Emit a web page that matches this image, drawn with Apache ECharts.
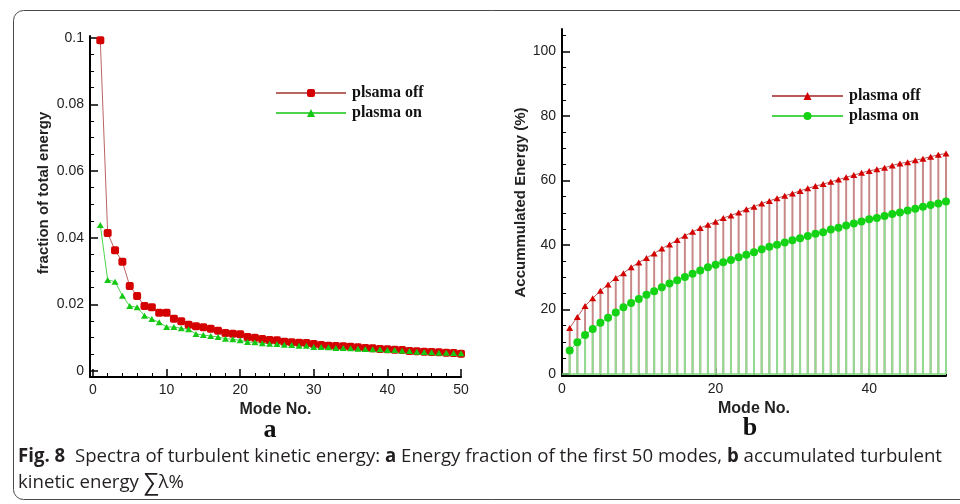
<!DOCTYPE html>
<html><head><meta charset="utf-8">
<script src="https://cdn.jsdelivr.net/npm/echarts@6/dist/echarts.min.js"></script>
<style>html,body{margin:0;padding:0;background:#fff}#c{width:960px;height:504px}</style>
</head><body><div id="c"></div>
<script>
// ---------- data ----------
const modes = [1,2,3,4,5,6,7,8,9,10,11,12,13,14,15,16,17,18,19,20,21,22,23,24,25,26,27,28,29,30,31,32,33,34,35,36,37,38,39,40,41,42,43,44,45,46,47,48,49,50];
const fracOff = [0.0992,0.0414,0.0362,0.0328,0.0255,0.0225,0.0195,0.0191,0.0175,0.0175,0.0157,0.0149,0.0139,0.0134,0.0131,0.0127,0.0121,0.0114,0.0112,0.0110,0.0102,0.0100,0.0096,0.0093,0.0092,0.0088,0.0086,0.0085,0.0084,0.0081,0.0078,0.0076,0.0075,0.0074,0.0073,0.0071,0.0069,0.0068,0.0066,0.0065,0.0064,0.0063,0.0060,0.0059,0.0058,0.0057,0.0056,0.0055,0.0054,0.0052];
const fracOn = [0.0438,0.0273,0.0268,0.0226,0.0195,0.0191,0.0166,0.0156,0.0146,0.0132,0.0132,0.0128,0.0125,0.0111,0.0108,0.0105,0.0102,0.0097,0.0095,0.0092,0.0087,0.0086,0.0083,0.0082,0.0081,0.0079,0.0078,0.0076,0.0076,0.0072,0.0072,0.0071,0.0069,0.0069,0.0068,0.0067,0.0066,0.0065,0.0065,0.0063,0.0063,0.0061,0.0060,0.0058,0.0057,0.0056,0.0055,0.0055,0.0054,0.0053];
const accOff = [14.3,17.7,21.1,23.5,25.8,27.8,29.8,31.3,33.1,34.6,36.0,37.4,38.9,40.2,41.6,42.9,44.1,45.3,46.3,47.2,48.4,49.2,50.1,51.1,51.9,52.9,53.7,54.5,55.3,56.0,56.8,57.6,58.3,58.9,59.6,60.3,61.0,61.7,62.4,63.0,63.5,64.0,64.7,65.3,65.7,66.3,66.8,67.4,68.0,68.4];
const accOn = [7.3,9.9,12.1,14.0,15.9,17.5,19.1,20.7,22.0,23.3,24.6,25.7,26.9,28.1,29.1,30.1,31.1,32.1,33.1,33.9,34.7,35.4,36.2,37.0,37.8,38.7,39.5,40.1,40.8,41.5,42.1,42.8,43.5,44.0,44.8,45.4,46.1,46.7,47.3,48.0,48.4,49.0,49.6,50.1,50.7,51.3,51.9,52.4,52.9,53.5];

const fracXTicks = [0,10,20,30,40,50];
const fracXMinor = [2,4,6,8,12,14,16,18,22,24,26,28,32,34,36,38,42,44,46,48];
const fracYTicks = [0,0.02,0.04,0.06,0.08,0.1];
const fracYMinor = [0.005,0.01,0.015,0.025,0.03,0.035,0.045,0.05,0.055,0.065,0.07,0.075,0.085,0.09,0.095];
const accXTicks = [0,20,40];
const accXMinor = [5,10,15,25,30,35,45,50];
const accYTicks = [0,20,40,60,80,100];
const accYMinor = [5,10,15,25,30,35,45,50,55,65,70,75,85,90,95,105];

const leftNames = ['plsama off','plasma on'];
const rightNames = ['plasma off','plasma on '];
const yNameLeft = 'fraction of total energy';
const yNameRight = 'Accummulated Energy (%)';
const xName = 'Mode No.';

// ---------- helpers ----------
const pair = (xs, ys) => xs.map((x, i) => [x, ys[i]]);
const SANS = '"Liberation Sans", Arial, sans-serif';
const SERIF = '"Liberation Serif", "Times New Roman", serif';

function mainX(grid, min, max, ticks) {
  return {
    gridIndex: grid, type: 'value', position: 'bottom', min: min, max: max,
    axisLine: {show: true, onZero: false, lineStyle: {color: '#000', width: 2}},
    axisTick: {show: true, inside: true, length: 8, customValues: ticks, lineStyle: {color: '#000', width: 1.5}},
    axisLabel: {customValues: ticks, color: '#222', fontSize: 14, fontFamily: SANS, margin: 6},
    splitLine: {show: false},
    name: xName, nameLocation: 'middle', nameGap: 18,
    nameTextStyle: {fontFamily: SANS, fontWeight: 'bold', fontSize: 16, color: '#222'}
  };
}
function minorX(grid, min, max, ticks) {
  return {
    gridIndex: grid, type: 'value', position: 'bottom', min: min, max: max,
    axisLine: {show: false, onZero: false},
    axisTick: {show: true, inside: true, length: 4, customValues: ticks, lineStyle: {color: '#000', width: 1}},
    axisLabel: {show: false}, splitLine: {show: false}
  };
}
function mainY(grid, min, max, ticks, name, gap, pad) {
  return {
    gridIndex: grid, type: 'value', position: 'left', min: min, max: max,
    axisLine: {show: true, onZero: false, lineStyle: {color: '#000', width: 2}},
    axisTick: {show: true, inside: true, length: 8, customValues: ticks, lineStyle: {color: '#000', width: 1.5}},
    axisLabel: {customValues: ticks, color: '#222', fontSize: 14, fontFamily: SANS, margin: 6},
    splitLine: {show: false},
    name: name, nameLocation: 'middle', nameGap: gap,
    nameTextStyle: {fontFamily: SANS, fontWeight: 'bold', fontSize: 15, color: '#222', padding: pad}
  };
}
function minorY(grid, min, max, ticks) {
  return {
    gridIndex: grid, type: 'value', position: 'left', min: min, max: max,
    axisLine: {show: false, onZero: false},
    axisTick: {show: true, inside: true, length: 4, customValues: ticks, lineStyle: {color: '#000', width: 1}},
    axisLabel: {show: false}, splitLine: {show: false}
  };
}

// caption sizing
const capFont = '"Open Sans", "Noto Sans", "DejaVu Sans", sans-serif';
const capSize = 19;
const line1Parts = [['Fig. 8', true], ['  Spectra of turbulent kinetic energy: ', false], ['a', true], [' Energy fraction of the first 50 modes, ', false], ['b', true], [' accumulated turbulent', false]];
const ctx = document.createElement('canvas').getContext('2d');
let w1 = 0;
line1Parts.forEach(p => { ctx.font = (p[1] ? 'bold ' : '') + capSize + 'px ' + capFont; w1 += ctx.measureText(p[0]).width; });
const capScale = 924 / w1;
const line1Text = line1Parts.map(p => p[1] ? '{b|' + p[0] + '}' : p[0]).join('');

const chart = echarts.init(document.getElementById('c'), null, {renderer: 'canvas'});
chart.setOption({
  animation: false,
  backgroundColor: '#fff',
  grid: [
    {left: 90, right: 499, top: 36, bottom: 127},
    {left: 562, right: 14, top: 29, bottom: 128}
  ],
  xAxis: [
    mainX(0, -0.4, 50, fracXTicks), minorX(0, -0.4, 50, fracXMinor),
    mainX(1, 0, 50, accXTicks), minorX(1, 0, 50, accXMinor)
  ],
  yAxis: [
    mainY(0, -0.0018, 0.1005, fracYTicks, yNameLeft, 39, [0, 0, 0, 27]), minorY(0, -0.0018, 0.1005, fracYMinor),
    mainY(1, -0.6, 107, accYTicks, yNameRight, 29, [0, 0, 0, 0]), minorY(1, -0.6, 107, accYMinor)
  ],
  legend: [
    {data: leftNames, orient: 'vertical', left: 270, top: 80, itemWidth: 70, itemHeight: 10, itemGap: 4,
     textStyle: {fontFamily: SERIF, fontWeight: 'bold', fontSize: 16, color: '#111', lineHeight: 15, padding: [0, 0, 0, 1]}},
    {data: rightNames, orient: 'vertical', left: 766, top: 83, itemWidth: 71, itemHeight: 10, itemGap: 4,
     textStyle: {fontFamily: SERIF, fontWeight: 'bold', fontSize: 16, color: '#111', lineHeight: 15, padding: [0, 0, 0, 1]}}
  ],
  series: [
    {type: 'line', name: leftNames[0], xAxisIndex: 0, yAxisIndex: 0, data: pair(modes, fracOff),
     symbol: 'roundRect', symbolSize: 8, showAllSymbol: true,
     itemStyle: {color: '#d40000'}, lineStyle: {color: '#bb6464', width: 1}},
    {type: 'line', name: leftNames[1], xAxisIndex: 0, yAxisIndex: 0, data: pair(modes, fracOn),
     symbol: 'triangle', symbolSize: [7, 6], showAllSymbol: true,
     itemStyle: {color: '#14c814'}, lineStyle: {color: '#4cd44c', width: 1}},
    {type: 'bar', name: 'drop off', xAxisIndex: 2, yAxisIndex: 2, data: pair(modes, accOff),
     barWidth: 2, barGap: '-100%', silent: true, itemStyle: {color: '#c98888'}},
    {type: 'bar', name: 'drop on', xAxisIndex: 2, yAxisIndex: 2, data: pair(modes, accOn),
     barWidth: 2, barGap: '-100%', silent: true, itemStyle: {color: '#92dc92'},
     markLine: {silent: true, symbol: 'none', label: {show: false}, lineStyle: {color: '#7ada7a', width: 1.5, type: 'solid'},
                data: [{yAxis: 0}]}},
    {type: 'line', name: rightNames[0], xAxisIndex: 2, yAxisIndex: 2, data: pair(modes, accOff),
     symbol: 'triangle', symbolSize: [7, 6], showAllSymbol: true,
     itemStyle: {color: '#d40000'}, lineStyle: {color: '#b85a5a', width: 1}},
    {type: 'line', name: rightNames[1], xAxisIndex: 2, yAxisIndex: 2, data: pair(modes, accOn),
     symbol: 'circle', symbolSize: 8, showAllSymbol: true,
     itemStyle: {color: '#14d214'}, lineStyle: {color: '#4cd44c', width: 1}}
  ],
  graphic: [
    {type: 'rect', silent: true, shape: {x: 13.5, y: 10.5, width: 1000, height: 489, r: 10},
     style: {fill: 'none', stroke: '#4a4a4a', lineWidth: 1}},
    {type: 'text', x: 270, y: 430, silent: true,
     style: {text: 'a', font: 'bold 26px ' + SERIF, fill: '#111', align: 'center', verticalAlign: 'middle'}},
    {type: 'text', x: 750, y: 428, silent: true,
     style: {text: 'b', font: 'bold 26px ' + SERIF, fill: '#111', align: 'center', verticalAlign: 'middle'}},
    {type: 'text', x: 18, y: 457, scaleX: capScale, silent: true,
     style: {text: line1Text, font: capSize + 'px ' + capFont, fill: '#231f20', verticalAlign: 'middle',
             rich: {b: {fontWeight: 'bold', fontSize: capSize, fontFamily: capFont, fill: '#231f20'}}}},
    {type: 'text', x: 18, y: 483, scaleX: capScale, silent: true,
     style: {text: 'kinetic energy {s|∑}λ%', font: capSize + 'px ' + capFont, fill: '#231f20', verticalAlign: 'middle',
             rich: {s: {fontSize: 24, fontFamily: capFont, fill: '#231f20'}}}}
  ]
});
</script></body></html>
